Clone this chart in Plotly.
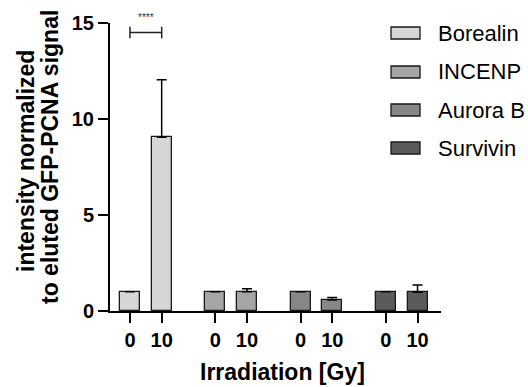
import plotly.graph_objects as go

proteins = ["Borealin", "INCENP", "Aurora B", "Survivin"]
doses = ["0", "10"]
means = {
    "Borealin": [1.0, 9.05],
    "INCENP": [1.0, 1.0],
    "Aurora B": [1.0, 0.57],
    "Survivin": [1.0, 0.98],
}
errors_up = {
    "Borealin": [0.0, 3.0],
    "INCENP": [0.0, 0.16],
    "Aurora B": [0.0, 0.13],
    "Survivin": [0.0, 0.37],
}
colors = ["#d6d6d6", "#a5a5a8", "#878787", "#5b5b5b"]
y_ticks = [0, 5, 10, 15]
significance = "****"

GROUP_STEP = 2.69
BAR_W = 0.63
FONT = "Liberation Sans, Arial, sans-serif"

FW, FH = 528, 387
L, R_EDGE, T, B_EDGE = 110, 441, 23, 311
PW, PH = R_EDGE - L, B_EDGE - T


def px(xw):
    return (xw - L) / PW


def py(yw):
    return (B_EDGE - yw) / PH


fig = go.Figure()
tickvals, ticktext = [], []
for g, (p, c) in enumerate(zip(proteins, colors)):
    xs = [g * GROUP_STEP + i for i in range(len(doses))]
    tickvals += xs
    ticktext += doses
    fig.add_trace(go.Bar(
        x=xs, y=means[p], width=BAR_W, name=p,
        marker=dict(color=c, line=dict(color="#1a1a1a", width=1.3)),
        error_y=dict(type="data", symmetric=False, array=errors_up[p],
                     arrayminus=[0] * len(doses), color="black",
                     thickness=1.5, width=5),
        showlegend=False,
    ))

# significance bracket between Borealin 0 and 10
x0, x1 = tickvals[0], tickvals[1]
for sh in [dict(x0=x0, x1=x1, y0=14.5, y1=14.5),
           dict(x0=x0, x1=x0, y0=14.2, y1=14.8),
           dict(x0=x1, x1=x1, y0=14.2, y1=14.8)]:
    fig.add_shape(type="line", xref="x", yref="y", line=dict(color="#222", width=1.5), **sh)
fig.add_annotation(x=(x0 + x1) / 2, y=py(18), xref="x", yref="paper", text=significance,
                   showarrow=False, yanchor="middle",
                   font=dict(family=FONT, size=10, color="#333"))

# legend drawn manually
leg_y = [33, 72, 110, 148]
for p, c, yy in zip(proteins, colors, leg_y):
    fig.add_shape(type="rect", xref="paper", yref="paper",
                  x0=px(391), x1=px(420), y0=py(yy + 6), y1=py(yy - 6),
                  fillcolor=c, line=dict(color="#1a1a1a", width=1.3))
    fig.add_annotation(xref="paper", yref="paper", x=px(436), y=py(yy),
                       xanchor="left", yanchor="middle", text=p, showarrow=False,
                       font=dict(family=FONT, size=22, color="black"))

# axis titles
fig.add_annotation(xref="paper", yref="paper", x=px(26), y=py(161),
                   text="intensity normalized", textangle=-90, showarrow=False,
                   xanchor="center", yanchor="middle",
                   font=dict(family=FONT, size=23, color="black", weight="bold"))
fig.add_annotation(xref="paper", yref="paper", x=px(50), y=py(157),
                   text="to eluted GFP-PCNA signal", textangle=-90, showarrow=False,
                   xanchor="center", yanchor="middle",
                   font=dict(family=FONT, size=23, color="black", weight="bold"))
fig.add_annotation(xref="paper", yref="paper", x=px(282), y=py(372),
                   text="Irradiation [Gy]", showarrow=False,
                   xanchor="center", yanchor="middle",
                   font=dict(family=FONT, size=23, color="black", weight="bold"))

fig.update_layout(
    width=FW, height=FH,
    margin=dict(l=L, r=FW - R_EDGE, t=T, b=FH - B_EDGE),
    paper_bgcolor="white", plot_bgcolor="white",
    bargap=0, showlegend=False,
    font=dict(family=FONT, color="black"),
    xaxis=dict(range=[-0.63, 9.81], tickvals=tickvals, ticktext=ticktext,
               showline=True, linecolor="black", linewidth=2, ticks="outside",
               ticklen=10, tickwidth=2, tickcolor="black", showgrid=False, zeroline=False,
               tickfont=dict(family=FONT, size=20, color="black", weight="bold")),
    yaxis=dict(range=[0, 15], tickvals=y_ticks, showline=True, linecolor="black",
               linewidth=2, ticks="outside", ticklen=10, tickwidth=2, tickcolor="black",
               showgrid=False, zeroline=False,
               tickfont=dict(family=FONT, size=20, color="black", weight="bold")),
)

fig.write_html(
    "out.html",
    config={"displayModeBar": False},
    post_script="document.body.style.margin='0px';document.body.style.overflow='hidden';",
)
